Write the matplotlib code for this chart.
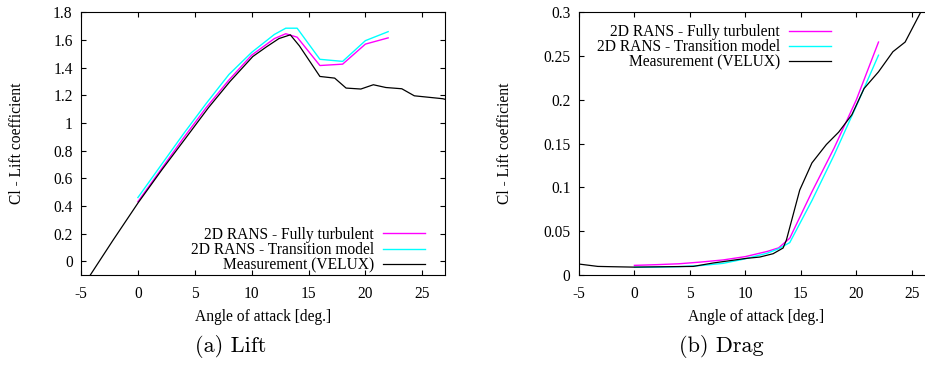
import matplotlib
matplotlib.use("Agg")
import matplotlib.pyplot as plt
from matplotlib.ticker import FuncFormatter, MultipleLocator

# lift / drag polars, simulated at fixed angles
aoa_sim = [0, 2, 4, 6, 8, 10, 12, 13, 14, 16, 18, 20, 22]
cl_turb = [0.43, 0.66, 0.89, 1.11, 1.31, 1.49, 1.61, 1.645, 1.62, 1.415, 1.425, 1.57, 1.615]
cl_trans = [0.46, 0.69, 0.92, 1.14, 1.35, 1.51, 1.64, 1.685, 1.685, 1.46, 1.445, 1.595, 1.66]
cd_turb = [0.011, 0.0118, 0.0128, 0.0148, 0.0172, 0.021, 0.027, 0.031, 0.042, 0.095, 0.145, 0.2, 0.266]
cd_trans = [0.0088, 0.009, 0.0095, 0.0108, 0.0133, 0.0185, 0.025, 0.030, 0.037, 0.085, 0.137, 0.193, 0.251]

# wind tunnel data (VELUX)
aoa_cl_meas = [-4.5, -2.2, 0, 2.1, 4.2, 6.2, 8.1, 10.1, 11.3, 12.4, 13.4, 14.2, 16.0,
               17.3, 18.3, 19.6, 20.7, 21.8, 23.2, 24.3, 26.8, 27.5]
cl_meas = [-0.14, 0.15, 0.42, 0.66, 0.89, 1.11, 1.30, 1.48, 1.55, 1.61, 1.637, 1.557, 1.336,
           1.324, 1.252, 1.245, 1.276, 1.256, 1.247, 1.196, 1.175, 1.16]
aoa_cd_meas = [-5, -3.3, -2.2, -0.1, 5.3, 7.1, 10.1, 11.3, 12.5, 13.4, 13.7, 14.9, 16.0,
               17.3, 18.4, 19.6, 20.7, 22.0, 23.3, 24.4, 25.8, 26.5]
cd_meas = [0.0125, 0.0098, 0.0095, 0.009, 0.0098, 0.0137, 0.019, 0.0205, 0.0243, 0.0308, 0.040,
           0.097, 0.128, 0.149, 0.163, 0.183, 0.213, 0.232, 0.255, 0.266, 0.30, 0.32]

labels = ['2D RANS - Fully turbulent', '2D RANS - Transition model', 'Measurement (VELUX)']

FS = 11.2
plt.rcParams['font.family'] = 'Liberation Serif'
plt.rcParams['font.size'] = FS

fig = plt.figure(figsize=(9.25, 3.65), dpi=100)
ax1 = fig.add_axes([0.0876, 0.2466, 0.3935, 0.7197])
ax2 = fig.add_axes([0.6259, 0.2466, 0.3838, 0.7197])

fmt = FuncFormatter(lambda v, p: '%g' % round(v, 4))

def style(ax):
    ax.tick_params(direction='in', top=True, right=True, length=3.5, width=0.8,
                   labelsize=FS, pad=6)
    ax.tick_params(axis='x', pad=8)
    ax.xaxis.set_major_formatter(fmt)
    ax.yaxis.set_major_formatter(fmt)
    for s in ax.spines.values():
        s.set_linewidth(0.8)
    ax.set_xlabel('Angle of attack [deg.]', va='center')
    ax.set_ylabel('Cl - Lift coefficient', va='center')
    ax.xaxis.set_major_locator(MultipleLocator(5))

leg_kw = dict(frameon=False, markerfirst=False, handlelength=2.7, handletextpad=0.6,
              labelspacing=-0.04, borderpad=0, borderaxespad=0, fontsize=FS)

# (a) lift
ax1.plot(aoa_sim, cl_turb, color='#ff00ff', lw=1.0, label=labels[0])
ax1.plot(aoa_sim, cl_trans, color='#00ffff', lw=1.0, label=labels[1])
ax1.plot(aoa_cl_meas, cl_meas, color='black', lw=0.9, label=labels[2])
ax1.set_xlim(-5, 27)
ax1.set_ylim(-0.1, 1.8)
ax1.yaxis.set_major_locator(MultipleLocator(0.2))
style(ax1)
ax1.xaxis.set_label_coords(0.5, -0.16)
ax1.yaxis.set_label_coords(-0.176, 0.5)
ax1.legend(loc='lower right', bbox_to_anchor=(0.945, 0.006), **leg_kw)

# (b) drag
ax2.plot(aoa_sim, cd_turb, color='#ff00ff', lw=1.0, label=labels[0])
ax2.plot(aoa_sim, cd_trans, color='#00ffff', lw=1.0, label=labels[1])
ax2.plot(aoa_cd_meas, cd_meas, color='black', lw=0.9, label=labels[2])
ax2.set_xlim(-5, 27)
ax2.set_ylim(0, 0.3)
ax2.yaxis.set_major_locator(MultipleLocator(0.05))
style(ax2)
ax2.xaxis.set_label_coords(0.5, -0.16)
ax2.yaxis.set_label_coords(-0.2085, 0.5)
ax2.legend(loc='upper right', bbox_to_anchor=(0.71, 0.955), **leg_kw)

fig.text(231 / 925, 1 - 347 / 365, '(a) Lift', family='cmr10', fontsize=16,
         ha='center', va='center')
fig.text(721 / 925, 1 - 347 / 365, '(b) Drag', family='cmr10', fontsize=16,
         ha='center', va='center')

fig.savefig('out.png', dpi=100)
